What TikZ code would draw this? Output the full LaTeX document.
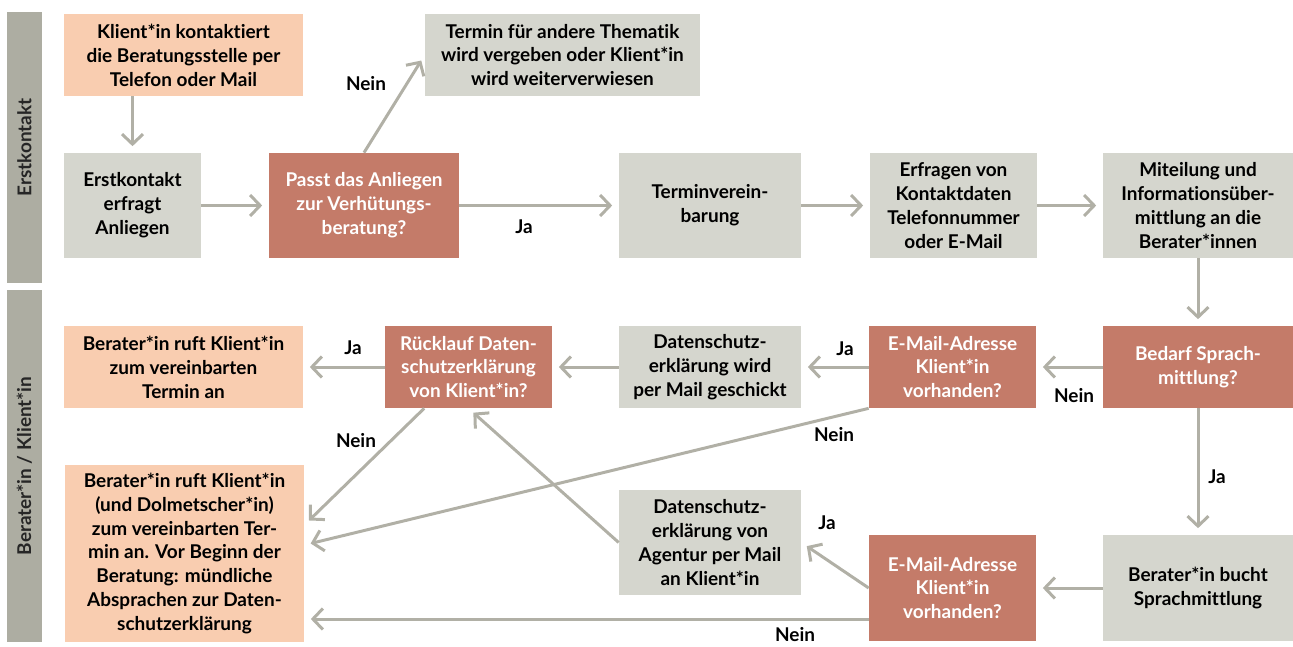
\documentclass[tikz,border=0pt]{standalone}
\usepackage{fontspec}
\setmainfont{Lato}[Ligatures={NoCommon}]
\usetikzlibrary{arrows.meta}

\definecolor{peach}{HTML}{F9CDB0}
\definecolor{stone}{HTML}{D5D6CE}
\definecolor{rust}{HTML}{C47B69}
\definecolor{lanegrey}{HTML}{ADADA2}
\definecolor{arrowgrey}{HTML}{B1B0A6}

\begin{document}
\begin{tikzpicture}[
 x=0.02cm,y=-0.02cm,
 every node/.style={font=\fontsize{10.8}{13.6}\selectfont\bfseries},
 box/.style={align=center,inner sep=2pt,text=black},
 kontakt/.style={box,fill=peach},
 schritt/.style={box,fill=stone},
 frage/.style={box,fill=rust,text=white},
 lane/.style={fill=lanegrey,text=black!85,inner sep=0pt,rotate=90},
 arr/.style={draw=arrowgrey,line width=1.7pt,
  -{Straight Barb[length=0.2cm,width=0.42cm]},shorten >=0.13cm},
 lbl/.style={inner sep=1pt}
]
 \useasboundingbox (0,0) rectangle (1293,646);

 % lanes on the left
 \node[lane,minimum width=5.42cm,minimum height=0.7cm] (erstlane) at (24.5,147.5) {Erstkontakt};
 \node[lane,minimum width=7.04cm,minimum height=0.7cm] (beraterlane) at (24.5,466) {Berater*in / Klient*in};

 % first row
 \node[kontakt,minimum width=4.78cm,minimum height=1.64cm] (klient) at (183.5,55)
  {Klient*in kontaktiert\\die Beratungsstelle per\\Telefon oder Mail};
 \node[schritt,minimum width=5.50cm,minimum height=1.64cm] (andere) at (562.5,55)
  {Termin für andere Thematik\\wird vergeben oder Klient*in\\wird weiterverwiesen};

 % second row
 \node[schritt,minimum width=2.74cm,minimum height=2.10cm] (erst) at (132.5,205.5)
  {Erstkontakt\\erfragt\\Anliegen};
 \node[frage,minimum width=3.80cm,minimum height=2.10cm] (passt) at (364,205.5)
  {Passt das Anliegen\\zur Verhütungs-\\beratung?};
 \node[schritt,minimum width=3.64cm,minimum height=2.10cm] (termin) at (710,205.5)
  {Terminverein-\\barung};
 \node[schritt,minimum width=3.34cm,minimum height=2.10cm] (erfragen) at (953.5,205.5)
  {Erfragen von\\Kontaktdaten\\Telefonnummer\\oder E-Mail};
 \node[schritt,minimum width=3.80cm,minimum height=2.10cm] (mitteil) at (1198,205.5)
  {Miteilung und\\Informationsüber-\\mittlung an die\\Berater*innen};

 % third row
 \node[kontakt,minimum width=4.78cm,minimum height=1.64cm] (anruf) at (183.5,367)
  {Berater*in ruft Klient*in\\zum vereinbarten\\Termin an};
 \node[frage,minimum width=3.34cm,minimum height=1.64cm] (rueck) at (468.5,367)
  {Rücklauf Daten-\\schutzerklärung\\von Klient*in?};
 \node[schritt,minimum width=3.64cm,minimum height=1.64cm] (dswird) at (710,367)
  {Datenschutz-\\erklärung wird\\per Mail geschickt};
 \node[frage,minimum width=3.34cm,minimum height=1.64cm] (mailA) at (952.5,367)
  {E-Mail-Adresse\\Klient*in\\vorhanden?};
 \node[frage,minimum width=3.80cm,minimum height=1.64cm] (bedarf) at (1198,367)
  {Bedarf Sprach-\\mittlung?};

 % bottom row
 \node[kontakt,minimum width=4.78cm,minimum height=3.54cm] (dolm) at (184.5,553.5)
  {Berater*in ruft Klient*in\\(und Dolmetscher*in)\\zum vereinbarten Ter-\\min an. Vor Beginn der\\Beratung: mündliche\\Absprachen zur Daten-\\schutzerklärung};
 \node[schritt,minimum width=3.64cm,minimum height=2.10cm] (dsagentur) at (710,542.5)
  {Datenschutz-\\erklärung von\\Agentur per Mail\\an Klient*in};
 \node[frage,minimum width=3.34cm,minimum height=2.12cm] (mailB) at (952.5,588)
  {E-Mail-Adresse\\Klient*in\\vorhanden?};
 \node[schritt,minimum width=3.80cm,minimum height=2.12cm] (bucht) at (1198,588)
  {Berater*in bucht\\Sprachmittlung};

 % connectors
 \draw[arr] (erst.north |- klient.south) -- (erst.north);
 \draw[arr] (erst) -- (passt);
 \draw[arr] (passt.north) -- (andere.west);
 \draw[arr] (passt) -- (termin);
 \draw[arr] (termin) -- (erfragen);
 \draw[arr] (erfragen) -- (mitteil);
 \draw[arr] (mitteil) -- (bedarf);
 \draw[arr] (bedarf) -- (mailA);
 \draw[arr] (mailA) -- (dswird);
 \draw[arr] (dswird) -- (rueck);
 \draw[arr] (rueck) -- (anruf);
 \draw[arr] (rueck.223) -- ([yshift=0.57cm]dolm.east);
 \draw[arr] (mailA.south west) -- ([yshift=0.17cm]dolm.east);
 \draw[arr] (bedarf) -- (bucht);
 \draw[arr] (bucht) -- (mailB);
 \draw[arr] (mailB.west) -- (dsagentur.east);
 \draw[arr] (dsagentur.west) -- (rueck.south);
 \draw[arr] ([yshift=-0.62cm]mailB.west) coordinate (mB) -- (dolm.east |- mB);

 % branch labels
 \node[lbl] (neinA) at (366,84) {Nein};
 \node[lbl] (jaA) at (524,227) {Ja};
 \node[lbl] (neinB) at (1074,396) {Nein};
 \node[lbl] (jaB) at (845,349) {Ja};
 \node[lbl] (jaC) at (353,348) {Ja};
 \node[lbl] (neinC) at (356,441) {Nein};
 \node[lbl] (neinD) at (834,435) {Nein};
 \node[lbl] (jaD) at (1217,477) {Ja};
 \node[lbl] (jaE) at (827,523) {Ja};
 \node[lbl] (neinE) at (795,635) {Nein};
\end{tikzpicture}
\end{document}
